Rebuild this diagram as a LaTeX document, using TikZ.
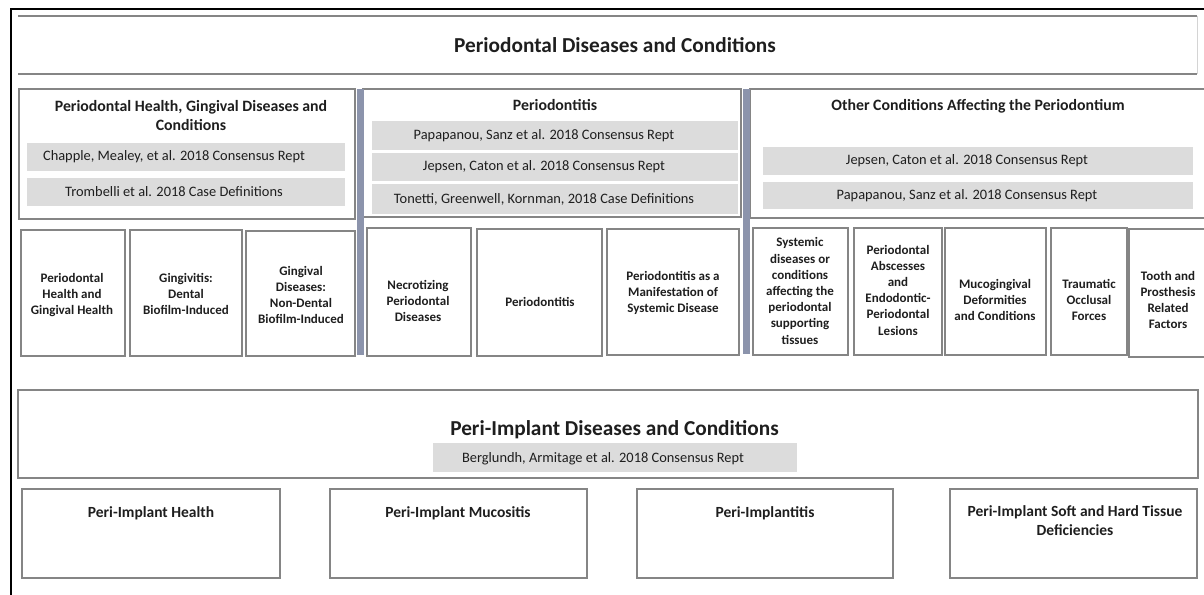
\documentclass[tikz,border=0pt]{standalone}
\usepackage{fontspec}
\setmainfont{Carlito}
\usetikzlibrary{fit}
\definecolor{linegray}{HTML}{858585}
\definecolor{bargray}{HTML}{DCDCDC}
\definecolor{divblue}{HTML}{8C94AC}
\definecolor{ink}{HTML}{1E1E1E}
\begin{document}
\begin{tikzpicture}[x=1pt,y=-1pt,
  every node/.style={inner sep=0pt, outer sep=0pt, text=ink},
  box/.style={draw=linegray, line width=1.5pt, fit={#1}},
  area/.style={fit={#1}},
  rule/.style={draw=linegray, line width=1.6pt},
  refbar/.style={fill=bargray, fit={#1}},
  reftext/.style={font=\fontsize{14.4}{17}\selectfont},
  divider/.style={fill=divblue, fit={#1}},
  bighead/.style={font=\fontsize{21.3}{25}\selectfont\bfseries},
  head/.style={font=\fontsize{15.8}{19}\selectfont\bfseries, align=center},
  item/.style={font=\fontsize{13}{16.2}\selectfont\bfseries, align=center},
  peri/.style={font=\fontsize{15.5}{19}\selectfont\bfseries, align=center},
]
\useasboundingbox (0,0) rectangle (1204,594);

% outer frame
\draw[line width=2.5pt, black] (11,600) -- (11,9) -- (1210,9);

% main heading band
\node[area={(18,16) (1197,74)}] (topband) {};
\draw[rule] (topband.north west) -- (topband.north east);
\draw[rule] (topband.south west) -- (topband.south east);
\draw[linegray!35, line width=1pt] (topband.north east) -- (topband.south east);
\node[bighead] (title) at (615,45) {Periodontal Diseases and Conditions};

% group A: health and gingival conditions
\node[box={(19,89) (355,219)}] (grpA) {};
\node[head] (hA) at (191,116) {Periodontal Health, Gingival Diseases and\\Conditions};
\node[refbar={(27,143) (345,171)}] (rA1) {};
\node[reftext] (rA1t) at (174,157) {Chapple, Mealey, et al. 2018 Consensus Rept};
\node[refbar={(27,178) (345,206)}] (rA2) {};
\node[reftext] (rA2t) at (174,192) {Trombelli et al. 2018 Case Definitions};

% group B: periodontitis
\node[box={(363,89) (741,217)}] (grpB) {};
\node[head] (hB) at (555,105) {Periodontitis};
\node[refbar={(372,121) (738,150)}] (rB1) {};
\node[reftext] (rB1t) at (544,136) {Papapanou, Sanz et al. 2018 Consensus Rept};
\node[refbar={(372,153) (738,181)}] (rB2) {};
\node[reftext] (rB2t) at (544,167) {Jepsen, Caton et al. 2018 Consensus Rept};
\node[refbar={(372,184) (738,214)}] (rB3) {};
\node[reftext] (rB3t) at (544,199) {Tonetti, Greenwell, Kornman, 2018 Case Definitions};

% group C: other conditions
\node[box={(750,89) (1210,218)}] (grpC) {};
\node[head] (hC) at (978,106) {Other Conditions Affecting the Periodontium};
\node[refbar={(763,147) (1193,175)}] (rC1) {};
\node[reftext] (rC1t) at (967,161) {Jepsen, Caton et al. 2018 Consensus Rept};
\node[refbar={(763,182) (1193,209)}] (rC2) {};
\node[reftext] (rC2t) at (967,196) {Papapanou, Sanz et al. 2018 Consensus Rept};

% category boxes
\node[box={(21,230) (125,356)}] (b1) {};
\node[box={(130,230) (242,356)}] (b2) {};
\node[box={(246,231) (355,356)}] (b3) {};
\node[box={(367,228) (471,356)}] (b4) {};
\node[box={(477,229) (602,356)}] (b5) {};
\node[box={(607,229) (739,355)}] (b6) {};
\node[box={(753,228) (848,355)}] (b7) {};
\node[box={(854,228) (942,355)}] (b8) {};
\node[box={(945,228) (1046,355)}] (b9) {};
\node[box={(1051,228) (1127,355)}] (b10) {};
\node[box={(1129,229) (1210,357)}] (b11) {};

\node[item] (t1) at (72,295) {Periodontal\\Health and\\Gingival Health};
\node[item] (t2) at (186,294) {Gingivitis:\\Dental\\Biofilm-Induced};
\node[item] (t3) at (301,295) {Gingival\\Diseases:\\Non-Dental\\Biofilm-Induced};
\node[item] (t4) at (418,301) {Necrotizing\\Periodontal\\Diseases};
\node[item] (t5) at (540,302) {Periodontitis};
\node[item] (t6) at (673,293) {Periodontitis as a\\Manifestation of\\Systemic Disease};
\node[item] (t7) at (800,291) {Systemic\\diseases or\\conditions\\affecting the\\periodontal\\supporting\\tissues};
\node[item] (t8) at (898,290) {Periodontal\\Abscesses\\and\\Endodontic-\\Periodontal\\Lesions};
\node[item] (t9) at (995,300) {Mucogingival\\Deformities\\and Conditions};
\node[item] (t10) at (1089,300) {Traumatic\\Occlusal\\Forces};
\node[item] (t11) at (1168,300) {Tooth and\\Prosthesis\\Related\\Factors};

% dividers between the three groups
\node[divider={(357,89) (364,355)}] (div1) {};
\node[divider={(743,89) (750,354)}] (div2) {};

% peri-implant section
\node[box={(18,390) (1198,478)}] (periA) {};
\node[bighead] (hP) at (614.5,430) {Peri-Implant Diseases and Conditions};
\node[refbar={(433,443) (797,472)}] (rP) {};
\node[reftext] (rPt) at (603,459) {Berglundh, Armitage et al. 2018 Consensus Rept};

\node[box={(22,489) (280,578)}] (p1) {};
\node[box={(330,489) (587,578)}] (p2) {};
\node[box={(637,489) (893,578)}] (p3) {};
\node[box={(950,489) (1197,578)}] (p4) {};
\node[peri] (p1t) at (151,513) {Peri-Implant Health};
\node[peri] (p2t) at (458,513) {Peri-Implant Mucositis};
\node[peri] (p3t) at (765,513) {Peri-Implantitis};
\node[peri, anchor=north] (p4t) at (1075,506) {Peri-Implant Soft and Hard Tissue\\Deficiencies};
\end{tikzpicture}
\end{document}
